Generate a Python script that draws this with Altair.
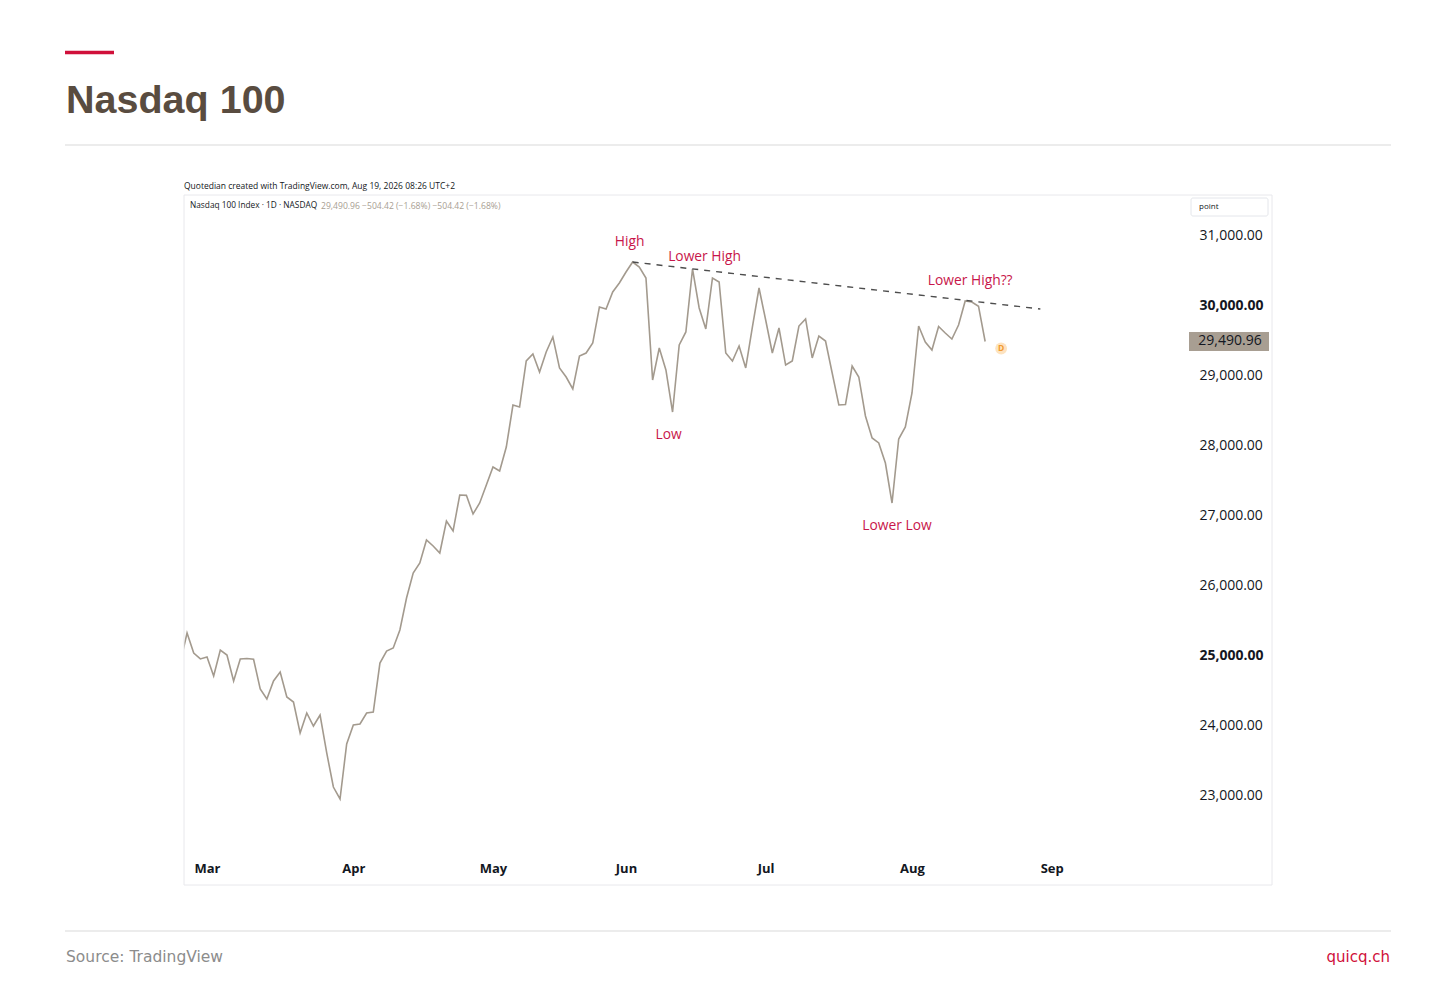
import altair as alt
import pandas as pd

# ---------------- data ----------------
# trading-day index (0 = Mon 2 Mar 2026), daily closes
bar_index = list(range(-4, 118))
closes = [
    24905, 25320, 25034, 24949, 24977, 24705, 25077, 25006, 24634, 24949,
    24955, 24945, 24519, 24376, 24634, 24763, 24405, 24333, 23890, 24176,
    23990, 24147, 23604, 23117, 22946, 23733, 24004, 24019, 24176, 24190,
    24891, 25063, 25106, 25363, 25821, 26179, 26322, 26651, 26565, 26465,
    26923, 26780, 27295, 27290, 27023, 27180, 27438, 27695, 27638, 27981,
    28582, 28554, 29212, 29312, 29054, 29340, 29555, 29112, 28983, 28811,
    29283, 29326, 29469, 29984, 29956, 30199, 30328, 30485, 30628, 30556,
    30399, 28940, 29398, 29083, 28482, 29441, 29627, 30528, 29970, 29670,
    30399, 30342, 29326, 29212, 29426, 29112, 29698, 30256, 29798, 29326,
    29684, 29154, 29212, 29712, 29813, 29255, 29569, 29498, 29040, 28582,
    28590, 29140, 28983, 28425, 28110, 28039, 27752, 27180, 28096, 28268,
    28754, 29712, 29484, 29369, 29705, 29612, 29526, 29727, 30070, 30056,
    29995.38, 29490.96,
]

month_labels = ["Mar", "Apr", "May", "Jun", "Jul", "Aug", "Sep"]
month_idx = [0, 22, 43, 63, 84, 106, 127]
ytick_vals = [23000, 24000, 25000, 26000, 27000, 28000, 29000, 30000, 31000]

trend_idx = [64, 125.3]
trend_val = [30628, 29956]

ann_idx = [64, 73, 70, 103, 114]
ann_text = ["High", "Lower High", "Low", "Lower Low", "Lower High??"]

header_text = "Quotedian created with TradingView.com, Aug 19, 2026 08:26 UTC+2"
legend_name = "Nasdaq 100 Index · 1D · NASDAQ"
legend_vals = "29,490.96  −504.42 (−1.68%)  −504.42 (−1.68%)"

# ---------------- styles ----------------
TV_FONT = "Open Sans"
LINE_C = "#a39a8e"
BOX_C = "#a89e92"
ANN_C = "#c8164a"
RED = "#d0103a"
TXT = "#131722"

W, H = 1004, 660
x_scale = alt.Scale(domain=[-3.46, 147.5], nice=False, zero=False)
y_scale = alt.Scale(domain=[22144.6, 31586.5], nice=False, zero=False)

df = pd.DataFrame({"i": bar_index, "close": closes})
trend_df = pd.DataFrame({"i": trend_idx, "close": trend_val})
one = pd.DataFrame({"a": [0]})

label_expr = (
    "[" + ",".join(f"'{m}'" for m in month_labels) + "][indexof(["
    + ",".join(str(v) for v in month_idx) + "], datum.value)]"
)

x_axis = alt.Axis(
    values=month_idx, labelExpr=label_expr, title=None, grid=False,
    domain=False, ticks=False, tickSize=0, labelPadding=13,
    labelBaseline="middle", labelFont=TV_FONT, labelFontSize=13,
    labelFontWeight="bold", labelColor=TXT, labelAngle=0,
)
y_axis = alt.Axis(
    orient="right", values=ytick_vals, format=",.2f", title=None, grid=False,
    domain=False, ticks=False, tickSize=0, labelPadding=11, labelAlign="left",
    labelBaseline="middle", labelFont=TV_FONT, labelFontSize=14, labelColor=TXT,
    labelFontWeight={"condition": {"test": "datum.value == 25000 || datum.value == 30000",
                                   "value": "bold"}, "value": "normal"},
)

X = alt.X("i:Q", scale=x_scale, axis=x_axis)
Y = alt.Y("close:Q", scale=y_scale, axis=y_axis)

line = alt.Chart(df).mark_line(color=LINE_C, strokeWidth=1.6, clip=True).encode(x=X, y=Y)

trend = alt.Chart(trend_df).mark_line(
    color="#4d4d4d", strokeWidth=1.4, strokeDash=[6, 6]
).encode(x=X, y=Y)

ann_offsets = [(-3, -20), (12, -12), (-4, 23), (5, 23), (5, -20)]
ann_layers = []
for idx, txt, (dx, dy) in zip(ann_idx, ann_text, ann_offsets):
    ann_layers.append(
        alt.Chart(df).transform_filter(f"datum.i == {idx}").mark_text(
            text=txt, dx=dx, dy=dy, font=TV_FONT, fontSize=13.8, color=ANN_C,
            align="center", baseline="middle",
        ).encode(x=X, y=Y)
    )

last = alt.Chart(df).transform_filter(f"datum.i == {bar_index[-1]}")
box = last.transform_calculate(
    top="datum.close + 135", bot="datum.close - 135"
).mark_rect(color=BOX_C).encode(
    x=alt.value(1005), x2=alt.value(1085),
    y=alt.Y("top:Q", scale=y_scale, axis=y_axis), y2="bot:Q",
)
box_txt = last.transform_calculate(lbl="format(datum.close, ',.2f')").mark_text(
    font=TV_FONT, fontSize=14, color=TXT, align="center", baseline="middle"
).encode(x=alt.value(1046), y=Y, text="lbl:N")

d_circle = last.mark_point(
    shape="circle", filled=True, size=140, color="#fde3c0", opacity=1,
    xOffset=16, yOffset=7,
).encode(x=X, y=Y)
d_txt = last.mark_text(
    text="D", dx=16, dy=7, font=TV_FONT, fontSize=8.5, fontWeight="bold",
    color="#f29a2e", align="center", baseline="middle",
).encode(x=X, y=Y)

# ---------------- page decorations ----------------
def rule(x1, x2, y, color, w=1):
    return alt.Chart(one).mark_rule(color=color, strokeWidth=w).encode(
        x=alt.value(x1), x2=alt.value(x2), y=alt.value(y)
    )

def text(t, x, y, **kw):
    return alt.Chart(one).mark_text(text=t, **kw).encode(x=alt.value(x), y=alt.value(y))

pane = alt.Chart(one).mark_rect(fill="white", fillOpacity=0, stroke="#e8e8ec", strokeWidth=1).encode(
    x=alt.value(0), x2=alt.value(1088), y=alt.value(0), y2=alt.value(690)
)
point_box = alt.Chart(one).mark_rect(fill="white", stroke="#e4e6eb", strokeWidth=1, cornerRadius=2).encode(
    x=alt.value(1007), x2=alt.value(1084), y=alt.value(3), y2=alt.value(21)
)
red_bar = alt.Chart(one).mark_rect(color=RED).encode(
    x=alt.value(-119), x2=alt.value(-70), y=alt.value(-144.3), y2=alt.value(-140.7)
)

decor = [
    red_bar,
    text("Nasdaq 100", -118, -81.7, align="left", baseline="alphabetic",
         font="Liberation Sans", fontSize=39.5, fontWeight="bold", color="#594c40"),
    rule(-119, 1207, -50, "#d9d9d9"),
    rule(-119, 1207, 736, "#d9d9d9"),
    text("Source: TradingView", -118, 762, align="left", baseline="middle",
         font="DejaVu Sans", fontSize=15.5, color="#8c8c8c"),
    text("quicq.ch", 1206, 762, align="right", baseline="middle",
         font="DejaVu Sans", fontSize=15, color=RED),
    pane,
    point_box,
    text("point", 1015, 12, align="left", baseline="middle", font=TV_FONT,
         fontSize=8, color=TXT),
    text(header_text, 0, -9, align="left", baseline="middle", font=TV_FONT,
         fontSize=8.5, color=TXT),
    text(legend_name, 6, 11, align="left", baseline="middle", font=TV_FONT,
         fontSize=8.3, color=TXT),
    text(legend_vals, 137, 11, align="left", baseline="middle", font=TV_FONT,
         fontSize=8.6, color=BOX_C),
]

chart = alt.layer(
    line, trend, *ann_layers, box, box_txt, d_circle, d_txt, *decor
).properties(
    width=W, height=H,
    autosize=alt.AutoSizeParams(type="none"),
    padding={"left": 176, "top": 187, "right": 260, "bottom": 125},
    background="white",
).configure_view(strokeWidth=0)

chart.save("out.html", embed_options={"renderer": "svg", "actions": False})
